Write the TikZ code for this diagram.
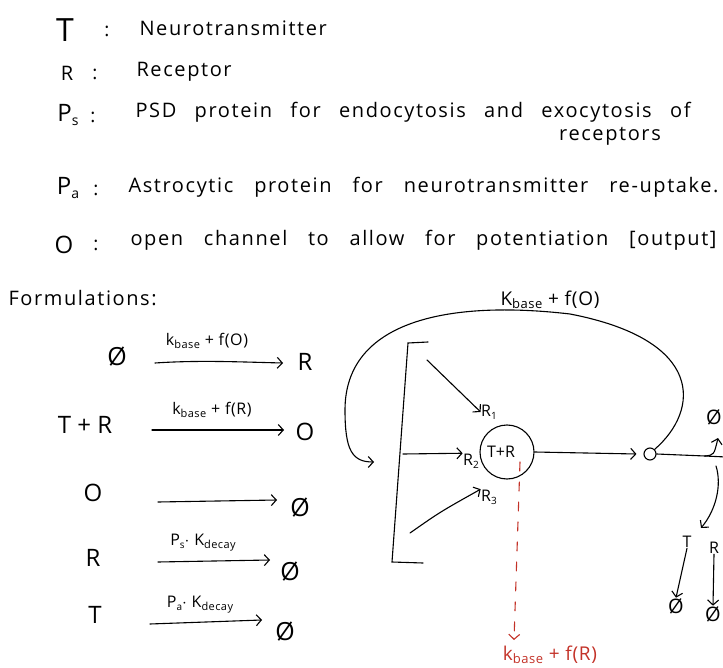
\documentclass[tikz,border=0pt]{standalone}
\usepackage{fontspec}
\setmainfont{Open Sans}
\usetikzlibrary{arrows.meta}
\definecolor{redpen}{RGB}{195,50,40}
\newcommand{\lowtxt}[2]{\raisebox{-0.35ex}{\fontsize{#1}{#1}\selectfont #2}}
\newcommand{\spreadto}[2]{\makebox[#1][s]{#2}}
\begin{document}
\begin{tikzpicture}[x=1pt,y=-1pt,line width=1.1pt,line cap=round,
  keyl/.style={font=\fontsize{24}{24}\selectfont,inner sep=0pt},
  colon/.style={font=\fontsize{19}{19}\selectfont,inner sep=0pt},
  desc/.style={font=\fontsize{20}{20}\selectfont\addfontfeatures{LetterSpace=8},anchor=west,inner sep=0pt},
  spec/.style={font=\fontsize{24}{24}\selectfont,inner sep=0pt},
  nul/.style={font=\fontsize{25}{25}\selectfont,inner sep=0pt},
  rate/.style={font=\fontsize{16}{16}\selectfont\addfontfeatures{LetterSpace=4},inner sep=0pt},
  dlbl/.style={font=\fontsize{16}{16}\selectfont,inner sep=0pt},
  biglbl/.style={font=\fontsize{19}{19}\selectfont\addfontfeatures{LetterSpace=4},inner sep=0pt},
  arr/.style={-{Straight Barb[length=5pt,width=11pt,line width=1.1pt]}},
  ]
\useasboundingbox (0,0) rectangle (723,668);

% ---------- legend ----------
\node[keyl,font=\fontsize{32}{32}\selectfont] (kT) at (65,30) {T};
\node[colon] (cT) at (107,31) {:};
\node[desc] (dT) at (139,28) {Neurotransmitter};

\node[keyl,font=\fontsize{20}{20}\selectfont] (kR) at (67,73) {R};
\node[colon] (cR) at (95,74) {:};
\node[desc] (dR) at (136,72) {Receptor};

\node[keyl] (kPs) at (68,115) {P\lowtxt{14}{s}};
\node[colon] (cPs) at (93,117) {:};
\node[desc] (dPs) at (135,112) {\spreadto{555pt}{PSD protein for endocytosis and exocytosis of}};
\node[desc,anchor=center] (dPs2) at (610,136) {receptors};

\node[keyl] (kPa) at (68,188) {P\lowtxt{14}{a}};
\node[colon] (cPa) at (96,190) {:};
\node[desc] (dPa) at (128,187) {\spreadto{590pt}{Astrocytic protein for neurotransmitter re-uptake.}};

\node[keyl] (kO) at (64,245) {O};
\node[colon] (cO) at (96,245) {:};
\node[desc] (dO) at (130,240) {\spreadto{586pt}{open channel to allow for potentiation [output]}};

% ---------- formulations ----------
\node[desc,font=\fontsize{20}{20}\selectfont\addfontfeatures{LetterSpace=8}] (form) at (8,298) {Formulations:};

\node[nul] (f1l) at (117,357) {Ø};
\node[spec] (f1r) at (305,362) {R};
\coordinate (a1s) at (155,363); \coordinate (a1e) at (283,363);
\draw[arr] (a1s) .. controls (200,360) and (240,362) .. (a1e);
\node[rate] (r1) at (207,341) {k\lowtxt{11}{base} + f(O)};

\node[spec] (f2l) at (85,425) {T + R};
\node[spec] (f2r) at (305,432) {O};
\coordinate (a2s) at (152,430); \coordinate (a2e) at (284,430);
\draw[arr] (a2s) -- (a2e);
\node[rate] (r2) at (212,410) {k\lowtxt{11}{base} + f(R)};

\node[spec] (f3l) at (93,493) {O};
\node[nul] (f3r) at (300,508) {Ø};
\coordinate (a3s) at (158,502); \coordinate (a3e) at (277,500);
\draw[arr] (a3s) -- (a3e);

\node[spec] (f4l) at (93,558) {R};
\node[nul] (f4r) at (290,572) {Ø};
\coordinate (a4s) at (158,562); \coordinate (a4e) at (270,560);
\draw[arr] (a4s) -- (a4e);
\node[rate] (r4) at (203,543) {P\lowtxt{10}{s}$\cdot$ K\lowtxt{11}{decay}};

\node[spec] (f5l) at (95,615) {T};
\node[nul] (f5r) at (285,632) {Ø};
\coordinate (a5s) at (150,624); \coordinate (a5e) at (262,620);
\draw[arr] (a5s) -- (a5e);
\node[rate] (r5) at (200,605) {P\lowtxt{10}{a}$\cdot$ K\lowtxt{11}{decay}};

% ---------- diagram ----------
\node[biglbl] (top) at (550,300) {K\lowtxt{13}{base} + f(O)};

\coordinate (b1) at (428,342); \coordinate (b2) at (408,343);
\coordinate (b3) at (392,562); \coordinate (b4) at (423,563);
\draw (b1) -- (b2) -- (b3) -- (b4);

\node[draw,circle,minimum size=54pt,inner sep=0pt,font=\fontsize{16}{16}\selectfont] (TR) at (507,452) {\hspace*{-12pt}T+R};
\node[draw,circle,minimum size=12pt,inner sep=0pt] (O) at (650,454) {};

\node[dlbl] (R1) at (489,412) {R\lowtxt{10}{1}};
\node[dlbl] (R2) at (471,461) {R\lowtxt{10}{2}};
\node[dlbl] (R3) at (489,497) {R\lowtxt{10}{3}};

\coordinate (s1) at (427,360);
\coordinate (s2) at (403,454);
\coordinate (s3) at (410,533);
\draw[arr] (s1) -- (R1.west);
\draw[arr] (s2) -- (R2.north west);
\draw[arr] (s3) .. controls (440,512) .. (R3.north west);

\draw[arr] (TR.east) -- ([xshift=-7pt]O.west);

\coordinate (fb) at (374,462);
\draw[arr] (O.north east) .. controls (700,410) and (705,340) .. (570,314)
  .. controls (450,300) and (345,320) .. (345,410)
  .. controls (345,450) and (352,462) .. (fb);

% red dashed branch
\coordinate (rs) at (520,462);
\coordinate (re) at (514,640);
\draw[redpen,dash pattern=on 9pt off 11pt,arr] (rs) -- (re);
\node[biglbl,text=redpen] (rl) at (550,655) {k\lowtxt{13}{base} + f(R)};

% right side branches
\coordinate (jn) at (705,456);
\coordinate (upE) at (718,438);
\coordinate (rtE) at (726,457);
\coordinate (dnE) at (701,528);
\draw (O.east) -- (jn);
\draw (jn) -- (rtE);
\draw[arr] (jn) .. controls (714,455) .. (upE);
\draw[arr] (716,466) .. controls (722,485) and (716,510) .. (dnE);
\node[nul,font=\fontsize{20}{20}\selectfont] (eUp) at (714,417) {Ø};

\node[dlbl] (Tr) at (687,542) {T};
\node[nul,font=\fontsize{20}{20}\selectfont] (Te) at (676,606) {Ø};
\draw[arr] (Tr.south) -- (Te.north);

\node[dlbl] (Rr) at (714,548) {R};
\node[nul,font=\fontsize{20}{20}\selectfont] (Re) at (713,614) {Ø};
\draw[arr] (Rr.south) -- (Re.north);
\end{tikzpicture}
\end{document}
